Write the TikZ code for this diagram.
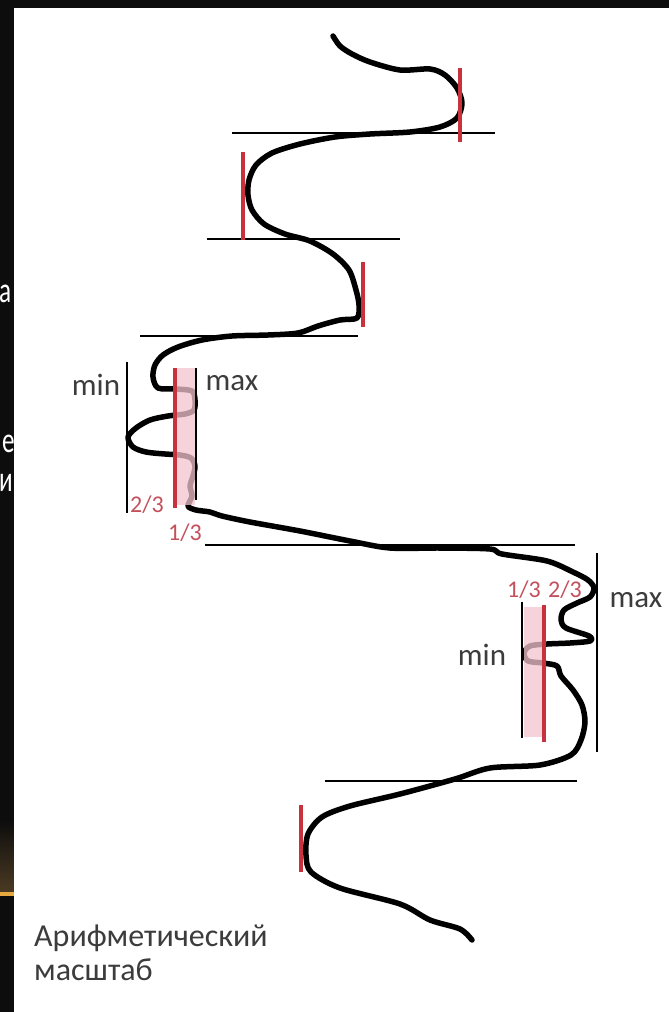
\documentclass[tikz,border=0pt]{standalone}
\usepackage{fontspec}
\setmainfont{Carlito}
\usetikzlibrary{positioning}

\definecolor{merah}{HTML}{C8323C}
\definecolor{merahmuda}{HTML}{F4C4D0}
\definecolor{teksabu}{HTML}{3C3C3C}
\definecolor{merahpecahan}{HTML}{C4505C}
\definecolor{bingkai}{HTML}{0D0D0D}
\definecolor{coklat}{HTML}{4A3A22}
\definecolor{jingga}{HTML}{E8A840}

\begin{document}
\begin{tikzpicture}[x=1pt, y=-1pt,
    kurva/.style={line width=5.5pt, line cap=round, line join=round},
    garis/.style={line width=1.3pt},
    batang/.style={merah, line width=4.5pt},
    pita/.style={fill=merahmuda, fill opacity=0.75},
    teks/.style={text=teksabu, font=\fontsize{31}{31}\selectfont, inner sep=0pt},
    pecahan/.style={text=merahpecahan, font=\fontsize{24}{24}\selectfont, inner sep=0pt},
    sisa/.style={text=white, font=\fontsize{36}{36}\selectfont, xscale=0.7, anchor=base west, inner sep=0pt}]

    \useasboundingbox (0,0) rectangle (669,1012);

    % Bingkai gelap dan sisa huruf slide
    \fill[bingkai] (0,0) rectangle (669,1012);
    \node[sisa] (hurufa) at (-1,302) {а};
    \node[sisa] (hurufe) at (2,452) {е};
    \node[sisa] (hurufi) at (-1,491) {и};
    \shade[top color=bingkai, bottom color=coklat] (0,820) rectangle (14,892);
    \fill[jingga] (0,892) rectangle (14,896);
    \fill[white] (14,8) rectangle (669,1012);

    % Garis mendatar
    \draw[garis] (232,133) -- (495,133);
    \draw[garis] (207,239) -- (400,239);
    \draw[garis] (140,336) -- (358,336);
    \draw[garis] (205,545) -- (575,545);
    \draw[garis] (325,781) -- (577,781);

    % Garis min dan max
    \draw[garis] (127,362) -- (127,513);
    \draw[garis] (196,368) -- (196,500);
    \draw[garis] (522,602) -- (522,738);
    \draw[garis] (597,553) -- (597,752);

    % Kurva harga
    \draw[kurva] plot[smooth, tension=0.5] coordinates {
        (333,36) (340,46) (352,54) (370,62) (400,70) (430,69) (445,75) (457,88)
        (462,103) (457,118) (440,127) (410,132) (370,134) (335,137) (300,144)
        (272,153) (256,165) (249,180) (248,195) (252,210) (264,224) (285,234)
        (310,241) (333,254) (349,270) (356,290) (359,305) (357,318) (340,320)
        (318,326) (298,333) (268,335) (232,336) (202,340) (178,347) (163,355)
        (155,365) (153,377) (158,388) (176,389) (192,391) (195,400) (194,410)
        (185,414) (168,416) (150,420) (136,428) (128,437) (133,447) (146,452)
        (165,454) (180,455) (191,458) (195,466) (193,476) (190,486) (192,496)
        (188,506) (196,510) (210,512) (222,516) (250,522) (300,531) (350,541)
        (390,548) (440,548) (490,549) (502,554) (547,561) (573,572) (588,580)
        (594,588) (590,597) (577,603) (564,610) (561,620) (566,628) (589,636)
        (590,641) (570,643) (547,644) (530,646) (524,653) (528,661) (543,663)
        (557,666) (561,676) (573,690) (582,705) (585,722) (581,740) (571,755)
        (540,765) (490,768) (455,779) (400,794) (350,806) (322,817) (308,834)
        (306,855) (311,872) (340,888) (400,904) (430,920) (460,929) (472,940)};

    % Pita 1/3 -- 2/3
    \fill[pita] (177,368) rectangle (195,505);
    \fill[pita] (524,607) rectangle (542,737);

    % Batang merah
    \draw[batang] (460,68) -- (460,142);
    \draw[batang] (243,152) -- (243,240);
    \draw[batang] (363,262) -- (363,327);
    \draw[batang] (175,368) -- (175,508);
    \draw[batang] (544,605) -- (544,742);
    \draw[batang] (301,805) -- (301,872);

    % Label
    \node[teks, anchor=base] (minkiri) at (96,395) {min};
    \node[teks, anchor=base] (maxkiri) at (232,390) {max};
    \node[teks, anchor=base] (minkanan) at (482,665) {min};
    \node[teks, anchor=base] (maxkanan) at (636,607) {max};
    \node[pecahan, anchor=base] (duakiri) at (147,512) {2/3};
    \node[pecahan, anchor=base] (satukiri) at (185,540) {1/3};
    \node[pecahan, anchor=base] (satukanan) at (524,597) {1/3};
    \node[pecahan, anchor=base] (duakanan) at (565,597) {2/3};
    \node[teks, font=\fontsize{32}{34}\selectfont, anchor=north west, align=left] (skala) at (34,925) {Арифметический\\масштаб};

\end{tikzpicture}
\end{document}
